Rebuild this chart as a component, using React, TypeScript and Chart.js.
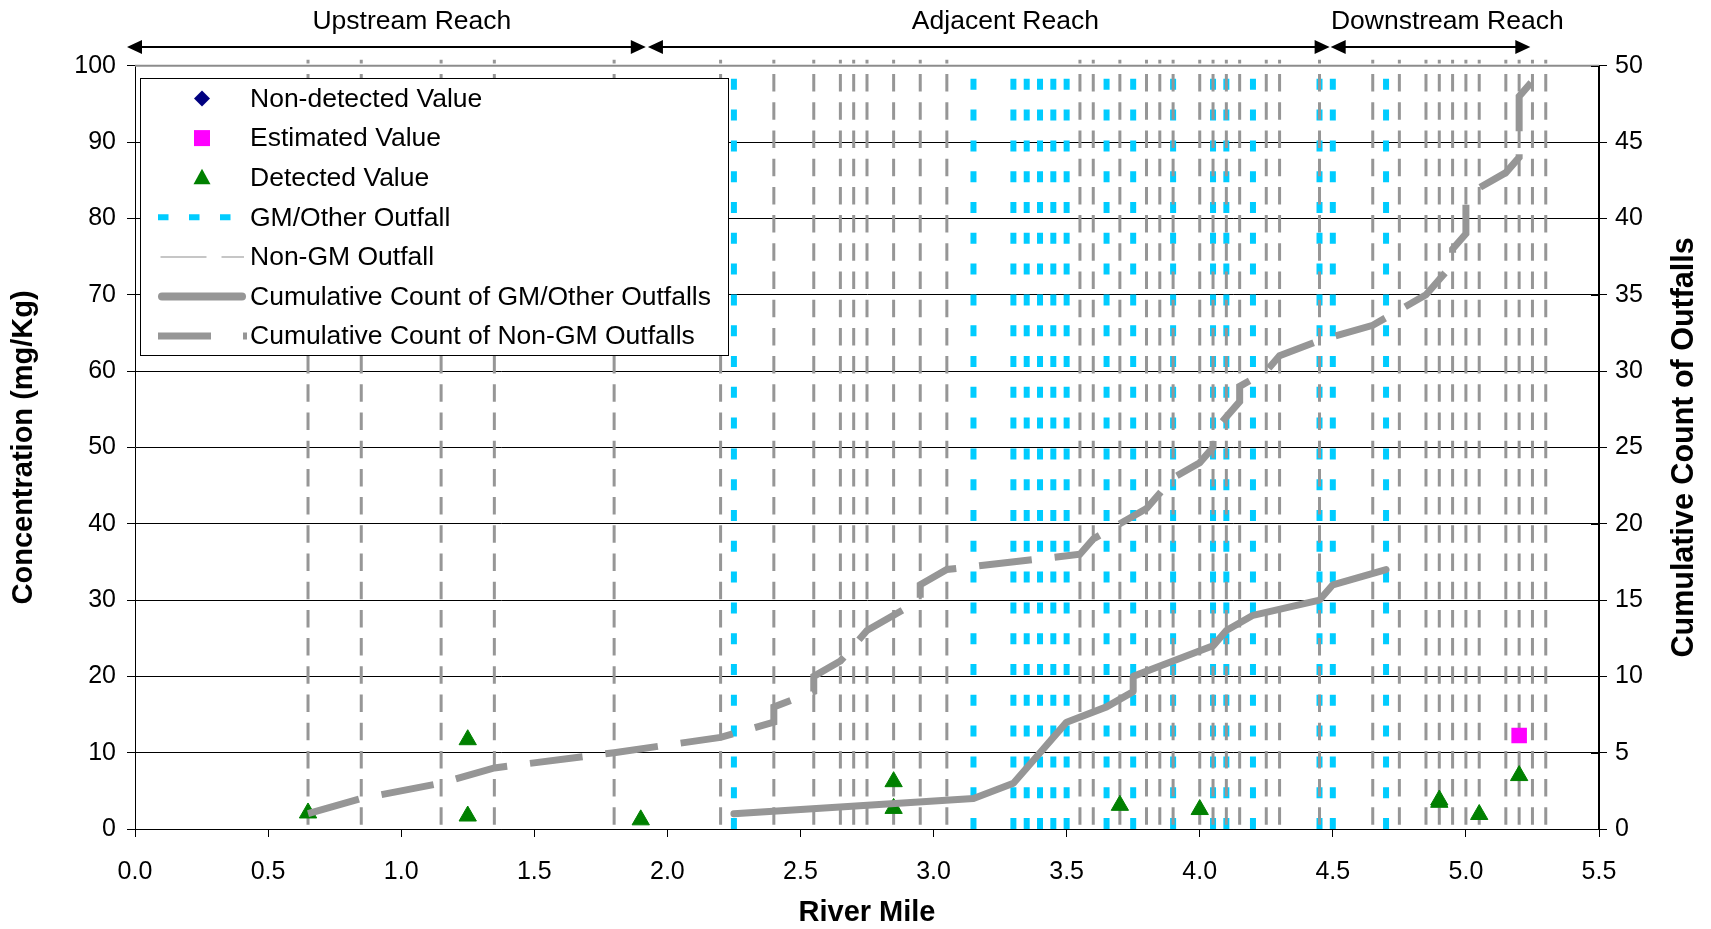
import React, { useEffect, useRef } from "react";
import { Chart, registerables } from "chart.js";

Chart.register(...registerables);

const FONT = "'Liberation Sans', Arial, Helvetica, sans-serif";

// Axis ranges
const mileMin = 0;
const mileMax = 5.5;
const mileStep = 0.5;
const concMax = 100;
const concStep = 10;
const countMax = 50;
const countStep = 5;

// Outfall locations along the river (river mile)
const gmOutfallMiles = [2.25, 3.15, 3.3, 3.35, 3.4, 3.45, 3.5, 3.65, 3.75, 3.9, 4.05, 4.1, 4.2, 4.45, 4.5, 4.7];
const nonGmOutfallMiles = [
  0.65, 0.85, 1.15, 1.35, 1.8, 2.2, 2.4, 2.55, 2.65, 2.7, 2.75, 2.85, 2.95, 3.05, 3.55, 3.6, 3.7, 3.8, 3.85,
  3.9, 4.0, 4.05, 4.1, 4.15, 4.25, 4.3, 4.45, 4.65, 4.75, 4.85, 4.9, 4.95, 5.0, 5.05, 5.15, 5.2, 5.25, 5.3,
];

// Cumulative outfall counts (right axis)
const gmCumulativeMiles = [2.25, 3.15, 3.3, 3.35, 3.4, 3.45, 3.5, 3.65, 3.75, 3.75, 3.9, 4.05, 4.1, 4.2, 4.45, 4.5, 4.7];
const gmCumulativeCounts = [1, 2, 3, 4, 5, 6, 7, 8, 9, 10, 11, 12, 13, 14, 15, 16, 17];
const nonGmCumulativeMiles = [
  0.65, 0.85, 1.15, 1.35, 1.8, 2.2, 2.4, 2.4, 2.55, 2.55, 2.65, 2.7, 2.75, 2.85, 2.95, 2.95, 3.05, 3.55, 3.6,
  3.7, 3.8, 3.85, 3.9, 4.0, 4.05, 4.05, 4.1, 4.15, 4.15, 4.25, 4.3, 4.45, 4.65, 4.75, 4.85, 4.9, 4.95, 4.95,
  5.0, 5.0, 5.0, 5.05, 5.15, 5.2, 5.2, 5.2, 5.2, 5.2, 5.25,
];
const nonGmCumulativeCounts = [
  1, 2, 3, 4, 5, 6, 7, 8, 9, 10, 11, 12, 13, 14, 15, 16, 17, 18, 19, 20, 21, 22, 23, 24, 25, 26, 27, 28, 29,
  30, 31, 32, 33, 34, 35, 36, 37, 38, 39, 40, 41, 42, 43, 44, 45, 46, 47, 48, 49,
];

// Sediment concentrations (mg/Kg)
const detectedMiles = [0.65, 1.25, 1.25, 1.9, 2.85, 2.85, 3.7, 4.0, 4.9, 4.9, 5.05, 5.2];
const detectedValues = [2.1, 11.7, 1.7, 1.2, 6.2, 2.7, 3.1, 2.55, 3.8, 3.5, 1.9, 7.0];
const estimatedMiles = [5.2];
const estimatedValues = [12.25];
const nonDetectedMiles: number[] = [];
const nonDetectedValues: number[] = [];

// Reach annotations above the plot
const reachNames = ["Upstream Reach", "Adjacent Reach", "Downstream Reach"];
const reachStarts = [-0.03, 1.927, 4.492];
const reachEnds = [1.919, 4.488, 5.242];
const reachLabelMiles = [1.04, 3.27, 4.93];

// Outfall marker lines run from the river bed to just above the plot top
const outfallTop = 100.8;

const LABEL_NON_DETECTED = "Non-detected Value";
const LABEL_ESTIMATED = "Estimated Value";
const LABEL_DETECTED = "Detected Value";
const LABEL_GM_OUTFALL = "GM/Other Outfall";
const LABEL_NON_GM_OUTFALL = "Non-GM Outfall";
const LABEL_GM_CUM = "Cumulative Count of GM/Other Outfalls";
const LABEL_NON_GM_CUM = "Cumulative Count of Non-GM Outfalls";
const RIGHT_AXIS_TITLE = "Cumulative Count of Outfalls";

const GRAY = "#969696";
const CYAN = "#00CCFF";
const GREEN = "#008000";
const MAGENTA = "#FF00FF";
const NAVY = "#000080";

const zip = (xs: number[], ys: number[]) => xs.map((x, i) => ({ x, y: ys[i] }));

function drawLegend(ctx: CanvasRenderingContext2D) {
  const left = 140;
  const top = 78;
  const width = 589;
  const height = 278;
  ctx.save();
  ctx.fillStyle = "#fff";
  ctx.fillRect(left, top, width, height);
  ctx.strokeStyle = "#000";
  ctx.lineWidth = 1;
  ctx.strokeRect(left + 0.5, top + 0.5, width - 1, height - 1);

  const rowY = (i: number) => 98.5 + i * 39.6;
  const mx = 202;

  // Non-detected: diamond
  let y = rowY(0);
  ctx.fillStyle = NAVY;
  ctx.beginPath();
  ctx.moveTo(mx, y - 8);
  ctx.lineTo(mx + 8, y);
  ctx.lineTo(mx, y + 8);
  ctx.lineTo(mx - 8, y);
  ctx.closePath();
  ctx.fill();

  // Estimated: square
  y = rowY(1);
  ctx.fillStyle = MAGENTA;
  ctx.fillRect(mx - 8, y - 8, 16, 16);

  // Detected: triangle
  y = rowY(2);
  ctx.fillStyle = GREEN;
  ctx.beginPath();
  ctx.moveTo(mx, y - 9);
  ctx.lineTo(mx + 8.5, y + 6.5);
  ctx.lineTo(mx - 8.5, y + 6.5);
  ctx.closePath();
  ctx.fill();

  // GM/Other outfall: cyan dashes
  y = rowY(3);
  ctx.strokeStyle = CYAN;
  ctx.lineWidth = 6;
  ctx.setLineDash([10.5, 20.5]);
  ctx.beginPath();
  ctx.moveTo(158, y);
  ctx.lineTo(232, y);
  ctx.stroke();

  // Non-GM outfall: thin gray dashes
  y = rowY(4);
  ctx.strokeStyle = "#b4b4b4";
  ctx.lineWidth = 1.5;
  ctx.setLineDash([46, 15]);
  ctx.beginPath();
  ctx.moveTo(160.5, y);
  ctx.lineTo(244, y);
  ctx.stroke();

  // Cumulative GM: thick solid
  y = rowY(5);
  ctx.setLineDash([]);
  ctx.strokeStyle = GRAY;
  ctx.lineWidth = 8;
  ctx.lineCap = "round";
  ctx.beginPath();
  ctx.moveTo(162, y);
  ctx.lineTo(242, y);
  ctx.stroke();

  // Cumulative Non-GM: thick dashes
  y = rowY(6);
  ctx.lineCap = "butt";
  ctx.lineWidth = 7;
  ctx.setLineDash([53, 32]);
  ctx.beginPath();
  ctx.moveTo(158, y);
  ctx.lineTo(247, y);
  ctx.stroke();
  ctx.setLineDash([]);

  const labels = [
    LABEL_NON_DETECTED,
    LABEL_ESTIMATED,
    LABEL_DETECTED,
    LABEL_GM_OUTFALL,
    LABEL_NON_GM_OUTFALL,
    LABEL_GM_CUM,
    LABEL_NON_GM_CUM,
  ];
  ctx.fillStyle = "#000";
  ctx.font = `26.5px ${FONT}`;
  ctx.textAlign = "left";
  ctx.textBaseline = "middle";
  labels.forEach((t, i) => ctx.fillText(t, 250, rowY(i) + 1));
  ctx.restore();
}

const decorations = {
  id: "decorations",
  afterDatasetsDraw(chart: any) {
    const { ctx, chartArea, scales } = chart;
    ctx.save();
    // plot area top border
    ctx.strokeStyle = "#8c8c8c";
    ctx.lineWidth = 2;
    ctx.beginPath();
    ctx.moveTo(chartArea.left, chartArea.top);
    ctx.lineTo(chartArea.right, chartArea.top);
    ctx.stroke();
    // inner ticks on the right axis
    ctx.strokeStyle = "#000";
    ctx.lineWidth = 1;
    const y1 = scales.y1;
    y1.ticks.forEach((t: any) => {
      const py = Math.round(y1.getPixelForValue(t.value)) + 0.5;
      ctx.beginPath();
      ctx.moveTo(chartArea.right - 8, py);
      ctx.lineTo(chartArea.right, py);
      ctx.stroke();
    });
    ctx.restore();
    drawLegend(ctx);
  },
  afterDraw(chart: any) {
    const { ctx, scales, chartArea } = chart;
    const xs = scales.x;
    const arrowY = 47;
    const head = 15;
    const half = 7;
    ctx.save();
    ctx.strokeStyle = "#000";
    ctx.fillStyle = "#000";
    ctx.lineWidth = 2;
    reachNames.forEach((name, i) => {
      const a = xs.getPixelForValue(reachStarts[i]);
      const b = xs.getPixelForValue(reachEnds[i]);
      ctx.beginPath();
      ctx.moveTo(a + head - 1, arrowY);
      ctx.lineTo(b - head + 1, arrowY);
      ctx.stroke();
      ctx.beginPath();
      ctx.moveTo(a, arrowY);
      ctx.lineTo(a + head, arrowY - half);
      ctx.lineTo(a + head, arrowY + half);
      ctx.closePath();
      ctx.fill();
      ctx.beginPath();
      ctx.moveTo(b, arrowY);
      ctx.lineTo(b - head, arrowY - half);
      ctx.lineTo(b - head, arrowY + half);
      ctx.closePath();
      ctx.fill();
      ctx.font = `26.5px ${FONT}`;
      ctx.textAlign = "center";
      ctx.textBaseline = "middle";
      ctx.fillText(name, xs.getPixelForValue(reachLabelMiles[i]), 22);
    });

    // right axis title, reading bottom to top
    ctx.translate(1685, (chartArea.top + chartArea.bottom) / 2);
    ctx.rotate(-Math.PI / 2);
    ctx.font = `bold 30.5px ${FONT}`;
    ctx.textAlign = "center";
    ctx.textBaseline = "middle";
    ctx.fillText(RIGHT_AXIS_TITLE, 0, 0);
    ctx.restore();
  },
};

function outfallLine(mile: number, kind: "gm" | "nongm", index: number) {
  const common = {
    type: "line" as const,
    label: `${kind === "gm" ? LABEL_GM_OUTFALL : LABEL_NON_GM_OUTFALL} ${index + 1}`,
    data: [
      { x: mile, y: 0 },
      { x: mile, y: outfallTop },
    ],
    yAxisID: "y",
    showLine: true,
    pointRadius: 0,
    clip: false as const,
  };
  if (kind === "gm") {
    return { ...common, borderColor: CYAN, borderWidth: 6, borderDash: [11, 19.8], borderDashOffset: 0, order: 3 };
  }
  return { ...common, borderColor: GRAY, borderWidth: 3, borderDash: [17.5, 10.7], borderDashOffset: 24, order: 2 };
}

export default function App() {
  const ref = useRef<HTMLCanvasElement>(null);

  useEffect(() => {
    if (!ref.current) return;
    Chart.defaults.font.family = FONT;
    Chart.defaults.color = "#000";

    const datasets: any[] = [
      {
        type: "line",
        label: LABEL_GM_CUM,
        data: zip(gmCumulativeMiles, gmCumulativeCounts),
        yAxisID: "y1",
        showLine: true,
        borderColor: GRAY,
        borderWidth: 7,
        borderCapStyle: "round",
        borderJoinStyle: "round",
        pointRadius: 0,
        tension: 0,
        order: 0,
      },
      {
        type: "line",
        label: LABEL_NON_GM_CUM,
        data: zip(nonGmCumulativeMiles, nonGmCumulativeCounts),
        yAxisID: "y1",
        showLine: true,
        borderColor: GRAY,
        borderWidth: 7,
        borderDash: [53, 23],
        borderCapStyle: "butt",
        borderJoinStyle: "miter",
        pointRadius: 0,
        tension: 0,
        order: 0,
      },
      {
        type: "scatter",
        label: LABEL_ESTIMATED,
        data: zip(estimatedMiles, estimatedValues),
        yAxisID: "y",
        pointStyle: "rect",
        pointRadius: 11,
        backgroundColor: MAGENTA,
        borderColor: MAGENTA,
        borderWidth: 0,
        order: 1,
      },
      {
        type: "scatter",
        label: LABEL_DETECTED,
        data: zip(detectedMiles, detectedValues),
        yAxisID: "y",
        pointStyle: "triangle",
        pointRadius: 10,
        backgroundColor: GREEN,
        borderColor: GREEN,
        borderWidth: 1,
        order: 1,
      },
      {
        type: "scatter",
        label: LABEL_NON_DETECTED,
        data: zip(nonDetectedMiles, nonDetectedValues),
        yAxisID: "y",
        pointStyle: "rectRot",
        pointRadius: 8,
        backgroundColor: NAVY,
        borderColor: NAVY,
        order: 1,
      },
      ...nonGmOutfallMiles.map((m, i) => outfallLine(m, "nongm", i)),
      ...gmOutfallMiles.map((m, i) => outfallLine(m, "gm", i)),
    ];

    const chart = new Chart(ref.current, {
      type: "scatter",
      data: { datasets },
      options: {
        responsive: false,
        animation: false,
        devicePixelRatio: 1,
        events: [],
        layout: { padding: { top: 65.8, left: 0, right: 0, bottom: 0 } },
        plugins: { legend: { display: false }, tooltip: { enabled: false } },
        scales: {
          x: {
            type: "linear",
            min: mileMin,
            max: mileMax,
            afterFit: (s: any) => {
              s.height = 100;
            },
            ticks: {
              stepSize: mileStep,
              callback: (v: any) => Number(v).toFixed(1),
              font: { size: 25 },
              color: "#000",
              padding: 20,
              maxRotation: 0,
            },
            grid: { drawOnChartArea: false, drawTicks: true, tickLength: 8, color: "#000", lineWidth: 1 },
            border: { display: true, color: "#000", width: 1 },
            title: {
              display: true,
              text: "River Mile",
              font: { size: 29, weight: "bold", lineHeight: 1.1 },
              color: "#000",
              padding: 0,
            },
          },
          y: {
            type: "linear",
            position: "left",
            min: 0,
            max: concMax,
            afterFit: (s: any) => {
              s.width = 135;
            },
            ticks: { stepSize: concStep, font: { size: 25 }, color: "#000", padding: 11 },
            grid: { drawOnChartArea: true, tickLength: 8, color: "#000", lineWidth: 1 },
            border: { display: true, color: "#000", width: 1 },
            title: {
              display: true,
              text: "Concentration (mg/Kg)",
              font: { size: 29, weight: "bold", lineHeight: 1.1 },
              color: "#000",
              padding: { top: 8, bottom: 0 },
            },
          },
          y1: {
            type: "linear",
            position: "right",
            min: 0,
            max: countMax,
            afterFit: (s: any) => {
              s.width = 112;
            },
            ticks: { stepSize: countStep, font: { size: 25 }, color: "#000", padding: 8 },
            grid: { drawOnChartArea: false, tickLength: 8, color: "#000", lineWidth: 1 },
            border: { display: true, color: "#000", width: 2 },
            title: { display: false },
          },
        },
      } as any,
      plugins: [decorations],
    });
    return () => chart.destroy();
  }, []);

  return (
    <div style={{ position: "fixed", left: 0, top: 0, width: 1711, height: 929, background: "#fff" }}>
      <canvas ref={ref} width={1711} height={929} style={{ display: "block", width: 1711, height: 929 }} />
    </div>
  );
}
